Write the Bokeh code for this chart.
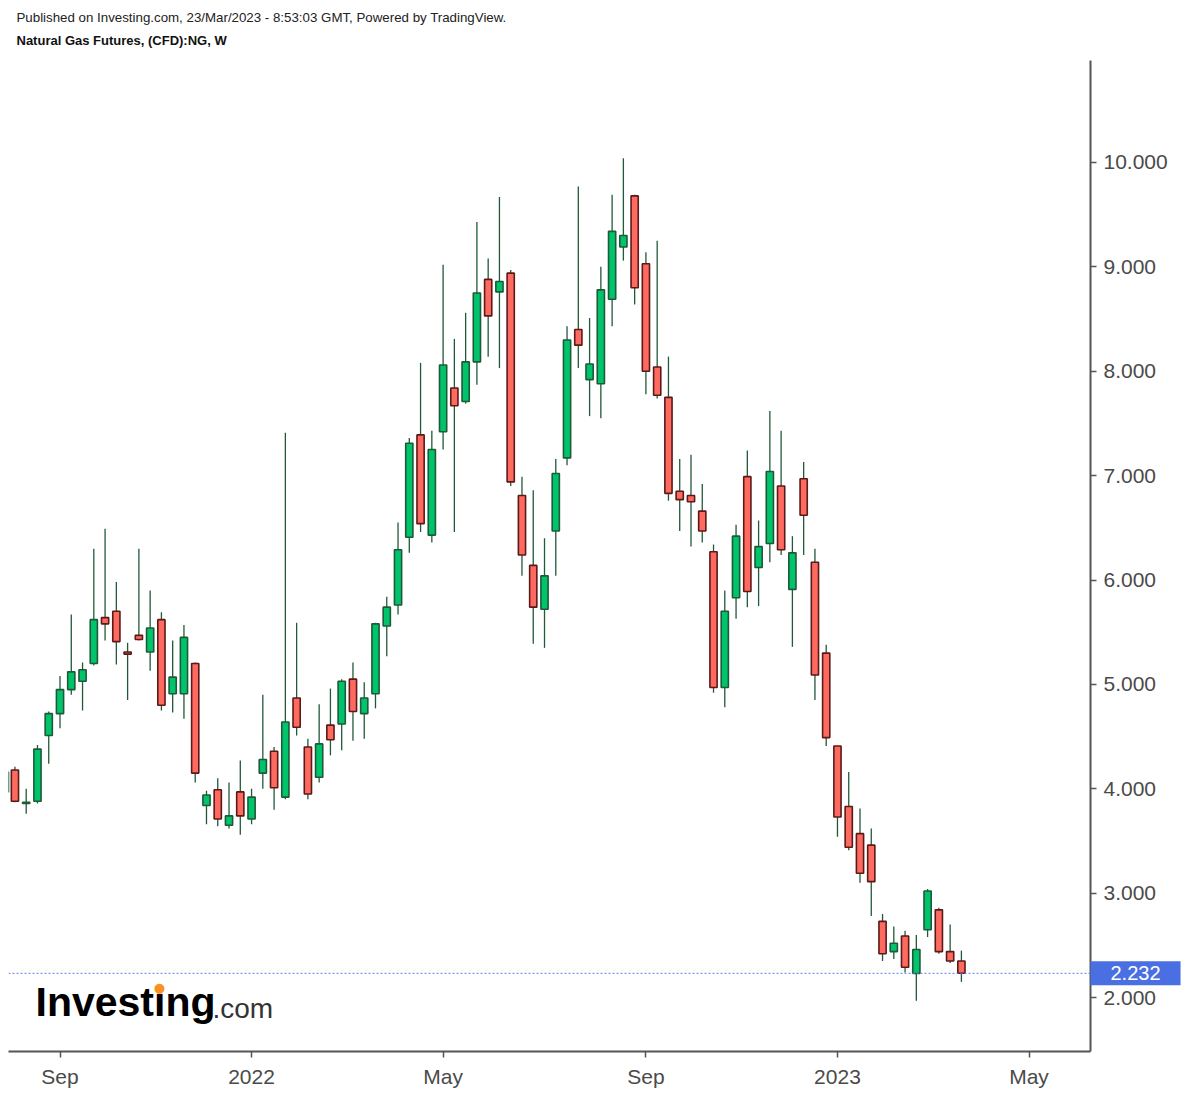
import pandas as pd
from bokeh.plotting import figure
from bokeh.models import ColumnDataSource, Range1d, FixedTicker, NumeralTickFormatter, Span, Label
from bokeh.embed import file_html
from bokeh.resources import INLINE

# ---------------- data (weekly candles, Natural Gas Futures) ----------------
weeks = [
    "2021-08-02", "2021-08-09", "2021-08-16", "2021-08-23", "2021-08-30", "2021-09-06",
    "2021-09-13", "2021-09-20", "2021-09-27", "2021-10-04", "2021-10-11", "2021-10-18",
    "2021-10-25", "2021-11-01", "2021-11-08", "2021-11-15", "2021-11-22", "2021-11-29",
    "2021-12-06", "2021-12-13", "2021-12-20", "2021-12-27", "2022-01-03", "2022-01-10",
    "2022-01-17", "2022-01-24", "2022-01-31", "2022-02-07", "2022-02-14", "2022-02-21",
    "2022-02-28", "2022-03-07", "2022-03-14", "2022-03-21", "2022-03-28", "2022-04-04",
    "2022-04-11", "2022-04-18", "2022-04-25", "2022-05-02", "2022-05-09", "2022-05-16",
    "2022-05-23", "2022-05-30", "2022-06-06", "2022-06-13", "2022-06-20", "2022-06-27",
    "2022-07-04", "2022-07-11", "2022-07-18", "2022-07-25", "2022-08-01", "2022-08-08",
    "2022-08-15", "2022-08-22", "2022-08-29", "2022-09-05", "2022-09-12", "2022-09-19",
    "2022-09-26", "2022-10-03", "2022-10-10", "2022-10-17", "2022-10-24", "2022-10-31",
    "2022-11-07", "2022-11-14", "2022-11-21", "2022-11-28", "2022-12-05", "2022-12-12",
    "2022-12-19", "2022-12-26", "2023-01-02", "2023-01-09", "2023-01-16", "2023-01-23",
    "2023-01-30", "2023-02-06", "2023-02-13", "2023-02-20", "2023-02-27", "2023-03-06",
    "2023-03-13", "2023-03-20",
]
opens = [
    3.97, 4.18, 3.86, 3.88, 4.51, 4.72, 4.95, 5.03, 5.20, 5.64, 5.70, 5.31,
    5.47, 5.31, 5.62, 4.91, 4.91, 5.20, 3.84, 3.99, 3.65, 3.97, 3.71, 4.15,
    4.36, 3.92, 4.87, 4.40, 4.11, 4.61, 4.62, 5.05, 4.72, 4.91, 5.56, 5.76,
    6.41, 7.39, 6.43, 7.42, 7.84, 7.71, 8.09, 8.88, 8.76, 8.94, 6.81, 6.14,
    5.72, 6.47, 7.17, 8.40, 7.92, 7.88, 8.69, 9.19, 9.68, 9.03, 8.04, 7.75,
    6.85, 6.81, 6.66, 6.27, 4.97, 5.83, 6.99, 6.12, 6.35, 6.90, 5.91, 6.97,
    6.17, 5.30, 4.41, 3.83, 3.57, 3.46, 2.73, 2.44, 2.59, 2.23, 2.65, 2.84,
    2.44, 2.35,
]
highs = [
    4.19, 4.21, 4.00, 4.42, 4.74, 5.08, 5.67, 5.21, 6.30, 6.49, 5.98, 5.40,
    6.30, 5.90, 5.69, 5.42, 5.57, 5.21, 3.98, 4.10, 4.06, 4.27, 4.00, 4.90,
    4.40, 7.41, 5.59, 4.48, 4.81, 4.96, 5.05, 5.21, 5.02, 5.59, 5.84, 6.55,
    7.36, 8.08, 7.43, 9.02, 8.31, 8.56, 9.43, 9.08, 9.67, 8.97, 6.99, 6.86,
    6.40, 7.16, 8.43, 9.77, 8.51, 9.00, 9.69, 10.04, 9.69, 9.14, 9.25, 8.14,
    7.16, 7.20, 6.92, 6.34, 5.90, 6.53, 7.24, 6.57, 7.62, 7.43, 6.42, 7.13,
    6.30, 5.38, 4.41, 4.16, 3.81, 3.62, 2.80, 2.68, 2.64, 2.60, 3.04, 2.86,
    2.70, 2.45,
]
lows = [
    3.94, 3.87, 3.76, 3.86, 4.24, 4.58, 4.90, 4.75, 5.18, 5.42, 5.19, 4.85,
    5.42, 5.13, 4.75, 4.73, 4.67, 4.06, 3.66, 3.64, 3.62, 3.56, 3.66, 4.00,
    3.80, 3.90, 4.51, 3.90, 4.06, 4.32, 4.37, 4.46, 4.48, 4.77, 5.27, 5.67,
    6.26, 6.46, 6.36, 7.25, 6.46, 7.69, 7.87, 8.14, 8.03, 6.90, 6.04, 5.39,
    5.35, 6.04, 7.10, 8.03, 7.57, 7.55, 8.43, 9.06, 8.64, 7.78, 7.74, 6.76,
    6.47, 6.32, 6.36, 4.92, 4.78, 5.63, 5.74, 5.75, 6.17, 6.24, 5.36, 6.24,
    4.85, 4.41, 3.54, 3.41, 3.10, 2.78, 2.35, 2.37, 2.24, 1.97, 2.58, 2.42,
    2.33, 2.15,
]
closes = [
    4.16, 3.88, 3.87, 4.38, 4.72, 4.95, 5.12, 5.14, 5.62, 5.58, 5.41, 5.29,
    5.43, 5.54, 4.80, 5.07, 5.45, 4.15, 3.94, 3.71, 3.74, 3.74, 3.92, 4.28,
    4.01, 4.64, 4.59, 3.95, 4.43, 4.47, 5.03, 4.74, 4.87, 5.58, 5.74, 6.29,
    7.31, 6.54, 7.25, 8.06, 7.67, 8.09, 8.75, 8.53, 8.86, 6.94, 6.24, 5.74,
    6.04, 7.02, 8.30, 8.25, 8.07, 8.78, 9.34, 9.30, 8.80, 8.00, 7.77, 6.83,
    6.77, 6.75, 6.47, 4.97, 5.70, 6.42, 5.89, 6.32, 7.04, 6.29, 6.26, 6.62,
    5.09, 4.49, 3.73, 3.44, 3.19, 3.11, 2.42, 2.52, 2.29, 2.46, 3.02, 2.44,
    2.35, 2.232,
]
last_price = 2.232

y_ticks = [2, 3, 4, 5, 6, 7, 8, 9, 10]
x_tick_dates = ["2021-09-06", "2022-01-03", "2022-05-02", "2022-09-05", "2023-01-02", "2023-05-01"]
x_tick_labels = ["Sep", "2022", "May", "Sep", "2023", "May"]

header1 = "Published on Investing.com, 23/Mar/2023 - 8:53:03 GMT, Powered by TradingView."
header2 = "Natural Gas Futures, (CFD):NG, W"

# ---------------- styling ----------------
GREEN = "#00c46c"
GREEN_EDGE = "#1f5a38"
RED = "#ff6a60"
RED_EDGE = "#5a1a18"
WICK = "#22593a"
AXIS = "#555555"
TXT = "#4a4a4a"
BLUE = "#4a6fe3"
FONT = "Liberation Sans"
DAY = 86400000.0

W, H = 1186, 1094
L_B, R_B, T_B, B_B = 8, 96, 60, 43
FR_L, FR_R, FR_T, FR_B = L_B, W - R_B, T_B, H - B_B
Y0, Y1 = 1.483, 10.977

def to_ms(s):
    return pd.Timestamp(s).value / 1e6

dates = pd.to_datetime(weeks)
ref = to_ms("2022-01-03")
x0 = ref - 151.0 * DAY
x1 = ref + 521.2 * DAY

def XD(px):
    return x0 + (px - FR_L) * (x1 - x0) / (FR_R - FR_L)

def YD(py):
    return Y0 + (FR_B - py) * (Y1 - Y0) / (FR_B - FR_T)

tops = [max(o, c) for o, c in zip(opens, closes)]
bots = [min(o, c) for o, c in zip(opens, closes)]
up = [c >= o for o, c in zip(opens, closes)]

src_all = ColumnDataSource(dict(x=dates, h=highs, l=lows))
src_up = ColumnDataSource(dict(
    x=[d for d, u in zip(dates, up) if u],
    top=[t for t, u in zip(tops, up) if u],
    bottom=[b for b, u in zip(bots, up) if u]))
src_dn = ColumnDataSource(dict(
    x=[d for d, u in zip(dates, up) if not u],
    top=[t for t, u in zip(tops, up) if not u],
    bottom=[b for b, u in zip(bots, up) if not u]))

p = figure(width=W, height=H, x_axis_type="datetime", y_axis_location="right",
           x_range=Range1d(x0, x1), y_range=Range1d(Y0, Y1),
           output_backend="svg", toolbar_location=None, title=None,
           min_border_left=L_B, min_border_right=R_B, min_border_top=T_B, min_border_bottom=B_B)
p.grid.visible = False
p.outline_line_color = None
p.background_fill_color = "white"
p.border_fill_color = "white"

body_w = 4.47 * DAY
p.segment(x0="x", y0="h", x1="x", y1="l", source=src_all, line_color=WICK, line_width=1.3)
p.vbar(x="x", width=body_w, top="top", bottom="bottom", source=src_up,
       fill_color=GREEN, line_color=GREEN_EDGE, line_width=1.6)
p.vbar(x="x", width=body_w, top="top", bottom="bottom", source=src_dn,
       fill_color=RED, line_color=RED_EDGE, line_width=1.6)

# price line
p.add_layout(Span(location=last_price, dimension="width", line_color="#5a7ff0",
                  line_dash="2 2", line_width=1))

# y axis (right)
ya = p.yaxis[0]
ya.ticker = FixedTicker(ticks=y_ticks)
ya.formatter = NumeralTickFormatter(format="0.000")
ya.axis_line_color = AXIS
ya.axis_line_width = 2
ya.major_tick_line_color = AXIS
ya.major_tick_line_width = 1.5
ya.major_tick_in = 0
ya.major_tick_out = 6
ya.minor_tick_line_color = None
ya.major_label_text_font = FONT
ya.major_label_text_font_size = "21px"
ya.major_label_text_color = TXT
ya.major_label_standoff = 7

# x axis
xt = [to_ms(d) for d in x_tick_dates]
xa = p.xaxis[0]
xa.ticker = FixedTicker(ticks=xt)
xa.major_label_overrides = {t: lab for t, lab in zip(xt, x_tick_labels)}
xa.axis_line_color = AXIS
xa.axis_line_width = 2
xa.major_tick_line_color = AXIS
xa.major_tick_line_width = 1.5
xa.major_tick_in = 0
xa.major_tick_out = 6
xa.minor_tick_line_color = None
xa.major_label_text_font = FONT
xa.major_label_text_font_size = "21px"
xa.major_label_text_color = TXT
xa.major_label_standoff = 7

# texts outside the frame live in the (roomy) top panel so they are not clipped
p.add_layout(Label(x=x1, y=last_price, text=f"{last_price:.3f}",
                   text_font=FONT, text_font_size="20px", text_color="white",
                   text_align="left", text_baseline="middle",
                   background_fill_color=BLUE, padding=(20, 5)), "above")
p.add_layout(Label(x=XD(16), y=YD(17), text=header1,
                   text_font=FONT, text_font_size="13.3px", text_color="#222222",
                   text_baseline="middle"), "above")
p.add_layout(Label(x=XD(16), y=YD(40), text=header2,
                   text_font=FONT, text_font_size="13px", text_font_style="bold",
                   text_color="#111111", text_baseline="middle"), "above")

# logo
p.add_layout(Label(x=XD(35), y=YD(1001), text="Investing",
                   text_font=FONT, text_font_size="41px", text_font_style="bold",
                   text_color="#000000", text_baseline="middle"))
p.add_layout(Label(x=XD(212), y=YD(1008), text=".com",
                   text_font=FONT, text_font_size="28px",
                   text_color="#333333", text_baseline="middle"))
p.add_layout(Label(x=XD(159), y=YD(987), text="\u25cf",
                   text_font="DejaVu Sans", text_font_size="13px",
                   text_color="#f7931e", text_align="center", text_baseline="middle"))

open("out.html", "w").write(file_html(p, INLINE))
